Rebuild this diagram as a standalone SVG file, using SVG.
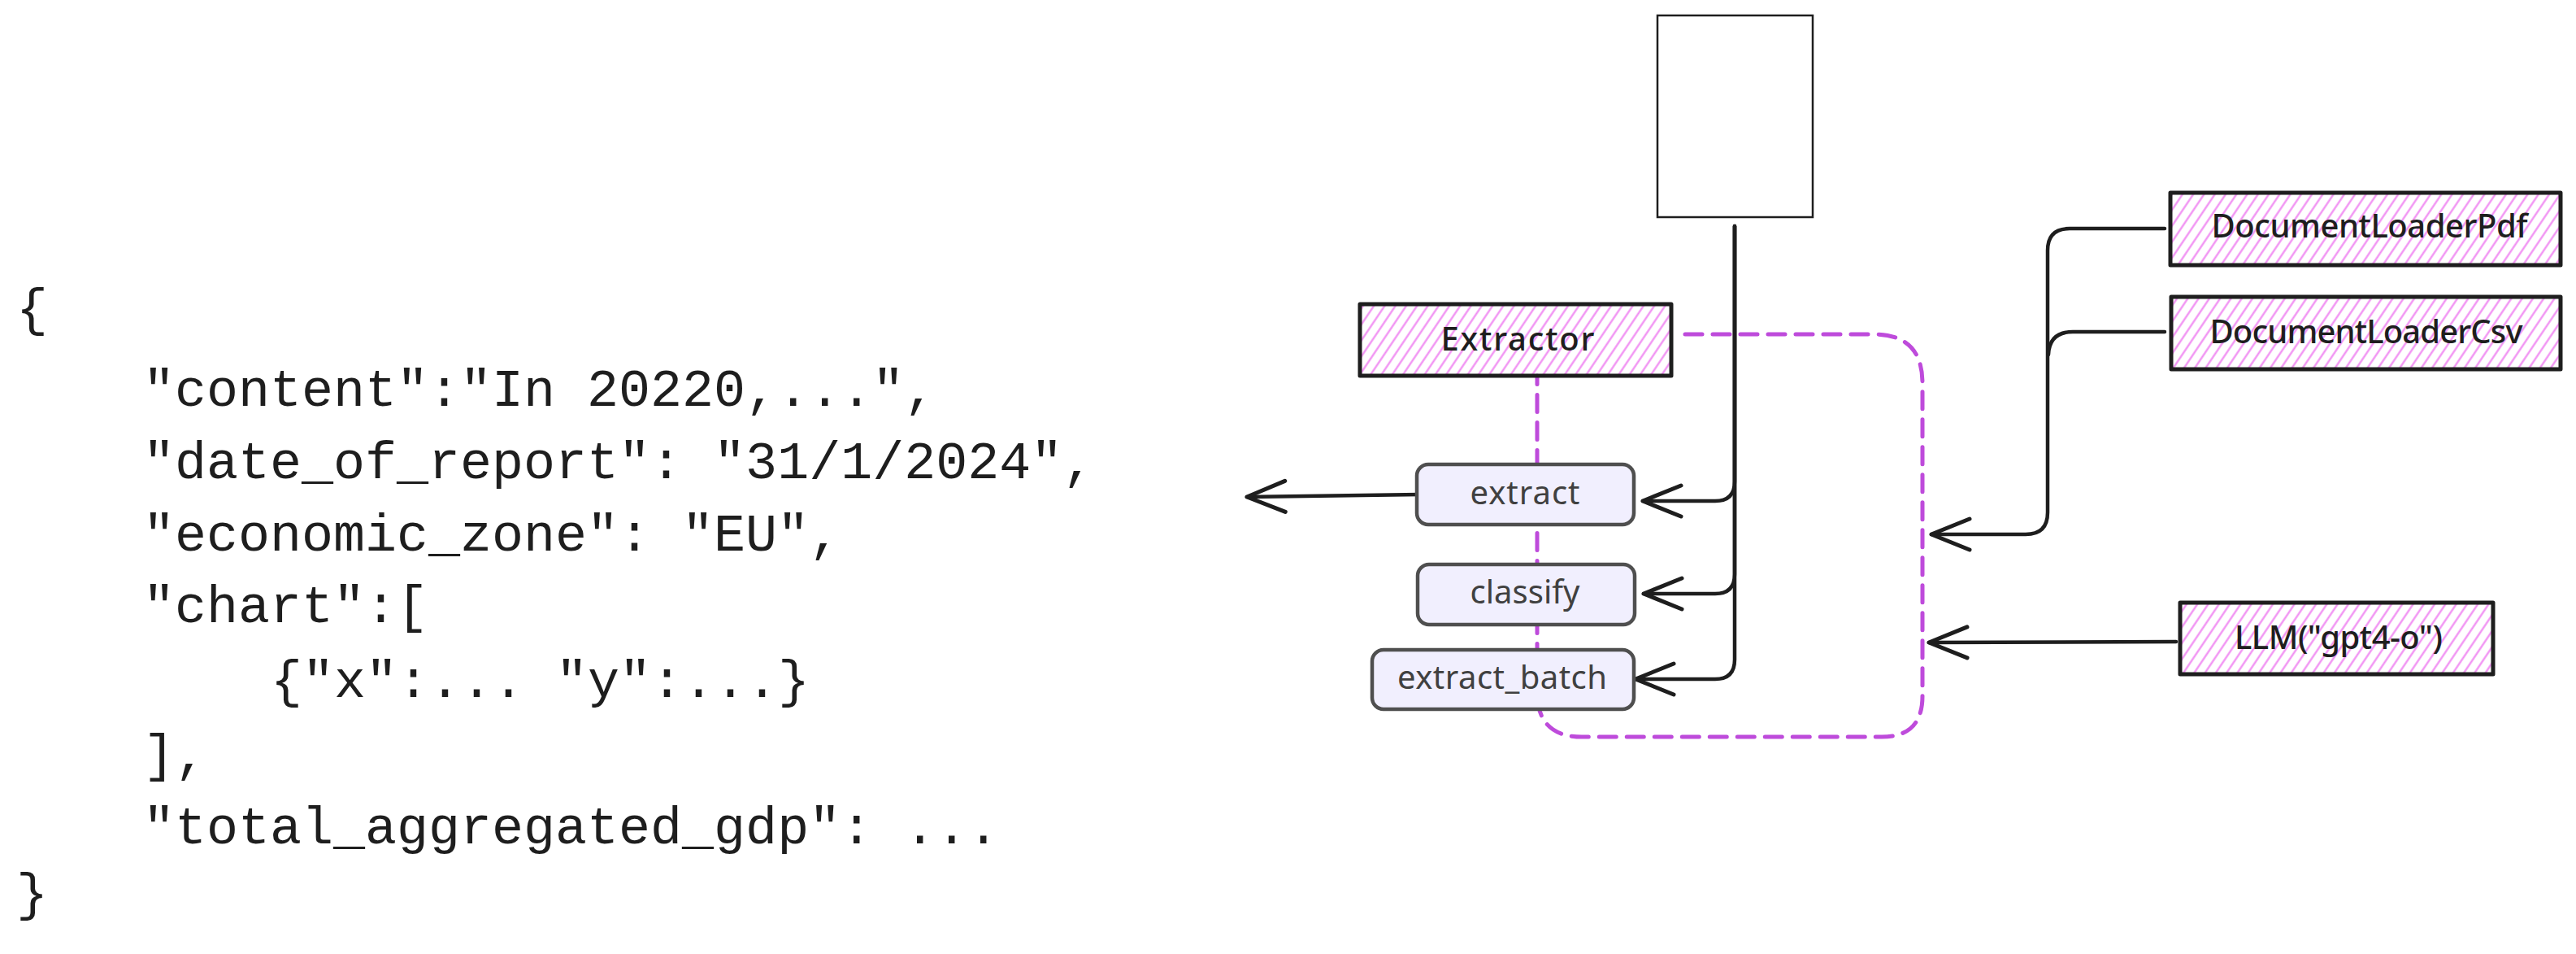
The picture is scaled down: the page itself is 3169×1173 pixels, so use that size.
<svg xmlns="http://www.w3.org/2000/svg" width="3169" height="1173" viewBox="0 0 3169 1173">
<style>
.code{font-family:"Liberation Mono","DejaVu Sans Mono",monospace;font-size:65px;fill:#1e1e1e}
.hand{font-family:"Noto Sans","Liberation Sans",sans-serif;font-size:40px;text-anchor:middle}
.hatchbox{fill:url(#hatch);stroke:#1e1e1e;stroke-width:5;stroke-linejoin:round}
.method{fill:#f1effe;stroke:#4f4f4f;stroke-width:4.5}
.mtext{fill:#404040}
.btext{fill:#1e1e1e;font-weight:500}
.conn{fill:none;stroke:#1e1e1e;stroke-width:4.5;stroke-linecap:round;stroke-linejoin:round}
.dash{fill:none;stroke:#be4bdb;stroke-width:5;stroke-dasharray:21 13;stroke-linecap:round}
</style>
<defs>
<pattern id="hatch" patternUnits="userSpaceOnUse" width="11" height="20" patternTransform="rotate(34)">
<line x1="5.5" y1="0" x2="5.5" y2="20" stroke="#f08af2" stroke-width="2.2"/>
</pattern>
<marker id="arr" markerUnits="userSpaceOnUse" markerWidth="60" markerHeight="50" viewBox="-55 -25 60 50" refX="0" refY="0" orient="auto" overflow="visible">
<path d="M -47 -19 L 0 0 L -47 19" fill="none" stroke="#1e1e1e" stroke-width="5" stroke-linecap="round" stroke-linejoin="round"/>
</marker>
</defs>
<rect width="3169" height="1173" fill="#ffffff"/>

<g id="json">
<text class="code" x="20" y="400">{</text>
<text class="code" x="176" y="499" xml:space="preserve">"content":"In 20220,...",</text>
<text class="code" x="176" y="588" xml:space="preserve">"date_of_report": "31/1/2024",</text>
<text class="code" x="176" y="677" xml:space="preserve">"economic_zone": "EU",</text>
<text class="code" x="176" y="765" xml:space="preserve">"chart":[</text>
<text class="code" x="333" y="857" xml:space="preserve">{"x":... "y":...}</text>
<text class="code" x="176" y="948" xml:space="preserve">],</text>
<text class="code" x="176" y="1037" xml:space="preserve">"total_aggregated_gdp": ...</text>
<text class="code" x="20" y="1119">}</text>
</g>

<g id="connectors">
<path class="dash" d="M2073 411 L2305 411 Q2365 411 2365 471 L2365 856 Q2365 906 2315 906 L1946 906 Q1891 906 1891 851 L1891 462"/>
<path class="conn" d="M2134 278 L2134 592 Q2134 616 2110 616 L2021 616" marker-end="url(#arr)"/>
<path class="conn" d="M2134 278 L2134 706 Q2134 730 2110 730 L2022 730" marker-end="url(#arr)"/>
<path class="conn" d="M2134 278 L2134 811 Q2134 835 2110 835 L2012 835" marker-end="url(#arr)"/>
<path class="conn" d="M2663 281 L2546 281 Q2519 281 2519 308 L2519 630 Q2519 657 2492 657 L2376 657" marker-end="url(#arr)"/>
<path class="conn" d="M2663 408 L2550 408 Q2521 408 2520 436"/>
<path class="conn" d="M2677 789 L2373 790" marker-end="url(#arr)"/>
<path class="conn" d="M1747 608 L1534 611" marker-end="url(#arr)"/>
</g>

<g id="document">
<rect x="2039" y="19" width="191" height="248" fill="#ffffff" stroke="#1e1e1e" stroke-width="2.5"/>
</g>

<g id="extractor">
<rect class="hatchbox" x="1673" y="374" width="383" height="88"/>
<text class="hand btext" x="1867" y="431" textLength="189">Extractor</text>
</g>

<g id="extract">
<rect class="method" x="1743" y="571" width="267" height="74" rx="14"/>
<text class="hand mtext" x="1876" y="620" textLength="135">extract</text>
</g>

<g id="classify">
<rect class="method" x="1744" y="694" width="267" height="74" rx="14"/>
<text class="hand mtext" x="1876" y="742" textLength="135">classify</text>
</g>

<g id="extract_batch">
<rect class="method" x="1688" y="799" width="322" height="73" rx="14"/>
<text class="hand mtext" x="1848" y="847" textLength="258">extract_batch</text>
</g>

<g id="loader_pdf">
<rect class="hatchbox" x="2670" y="237" width="480" height="89"/>
<text class="hand btext" x="2915" y="292" font-size="41" textLength="389">DocumentLoaderPdf</text>
</g>

<g id="loader_csv">
<rect class="hatchbox" x="2671" y="365" width="479" height="89"/>
<text class="hand btext" x="2911" y="422" font-size="41" textLength="385">DocumentLoaderCsv</text>
</g>

<g id="llm">
<rect class="hatchbox" x="2682" y="741" width="385" height="88"/>
<text class="hand btext" x="2877" y="798" font-size="41" textLength="256">LLM("gpt4-o")</text>
</g>
</svg>
